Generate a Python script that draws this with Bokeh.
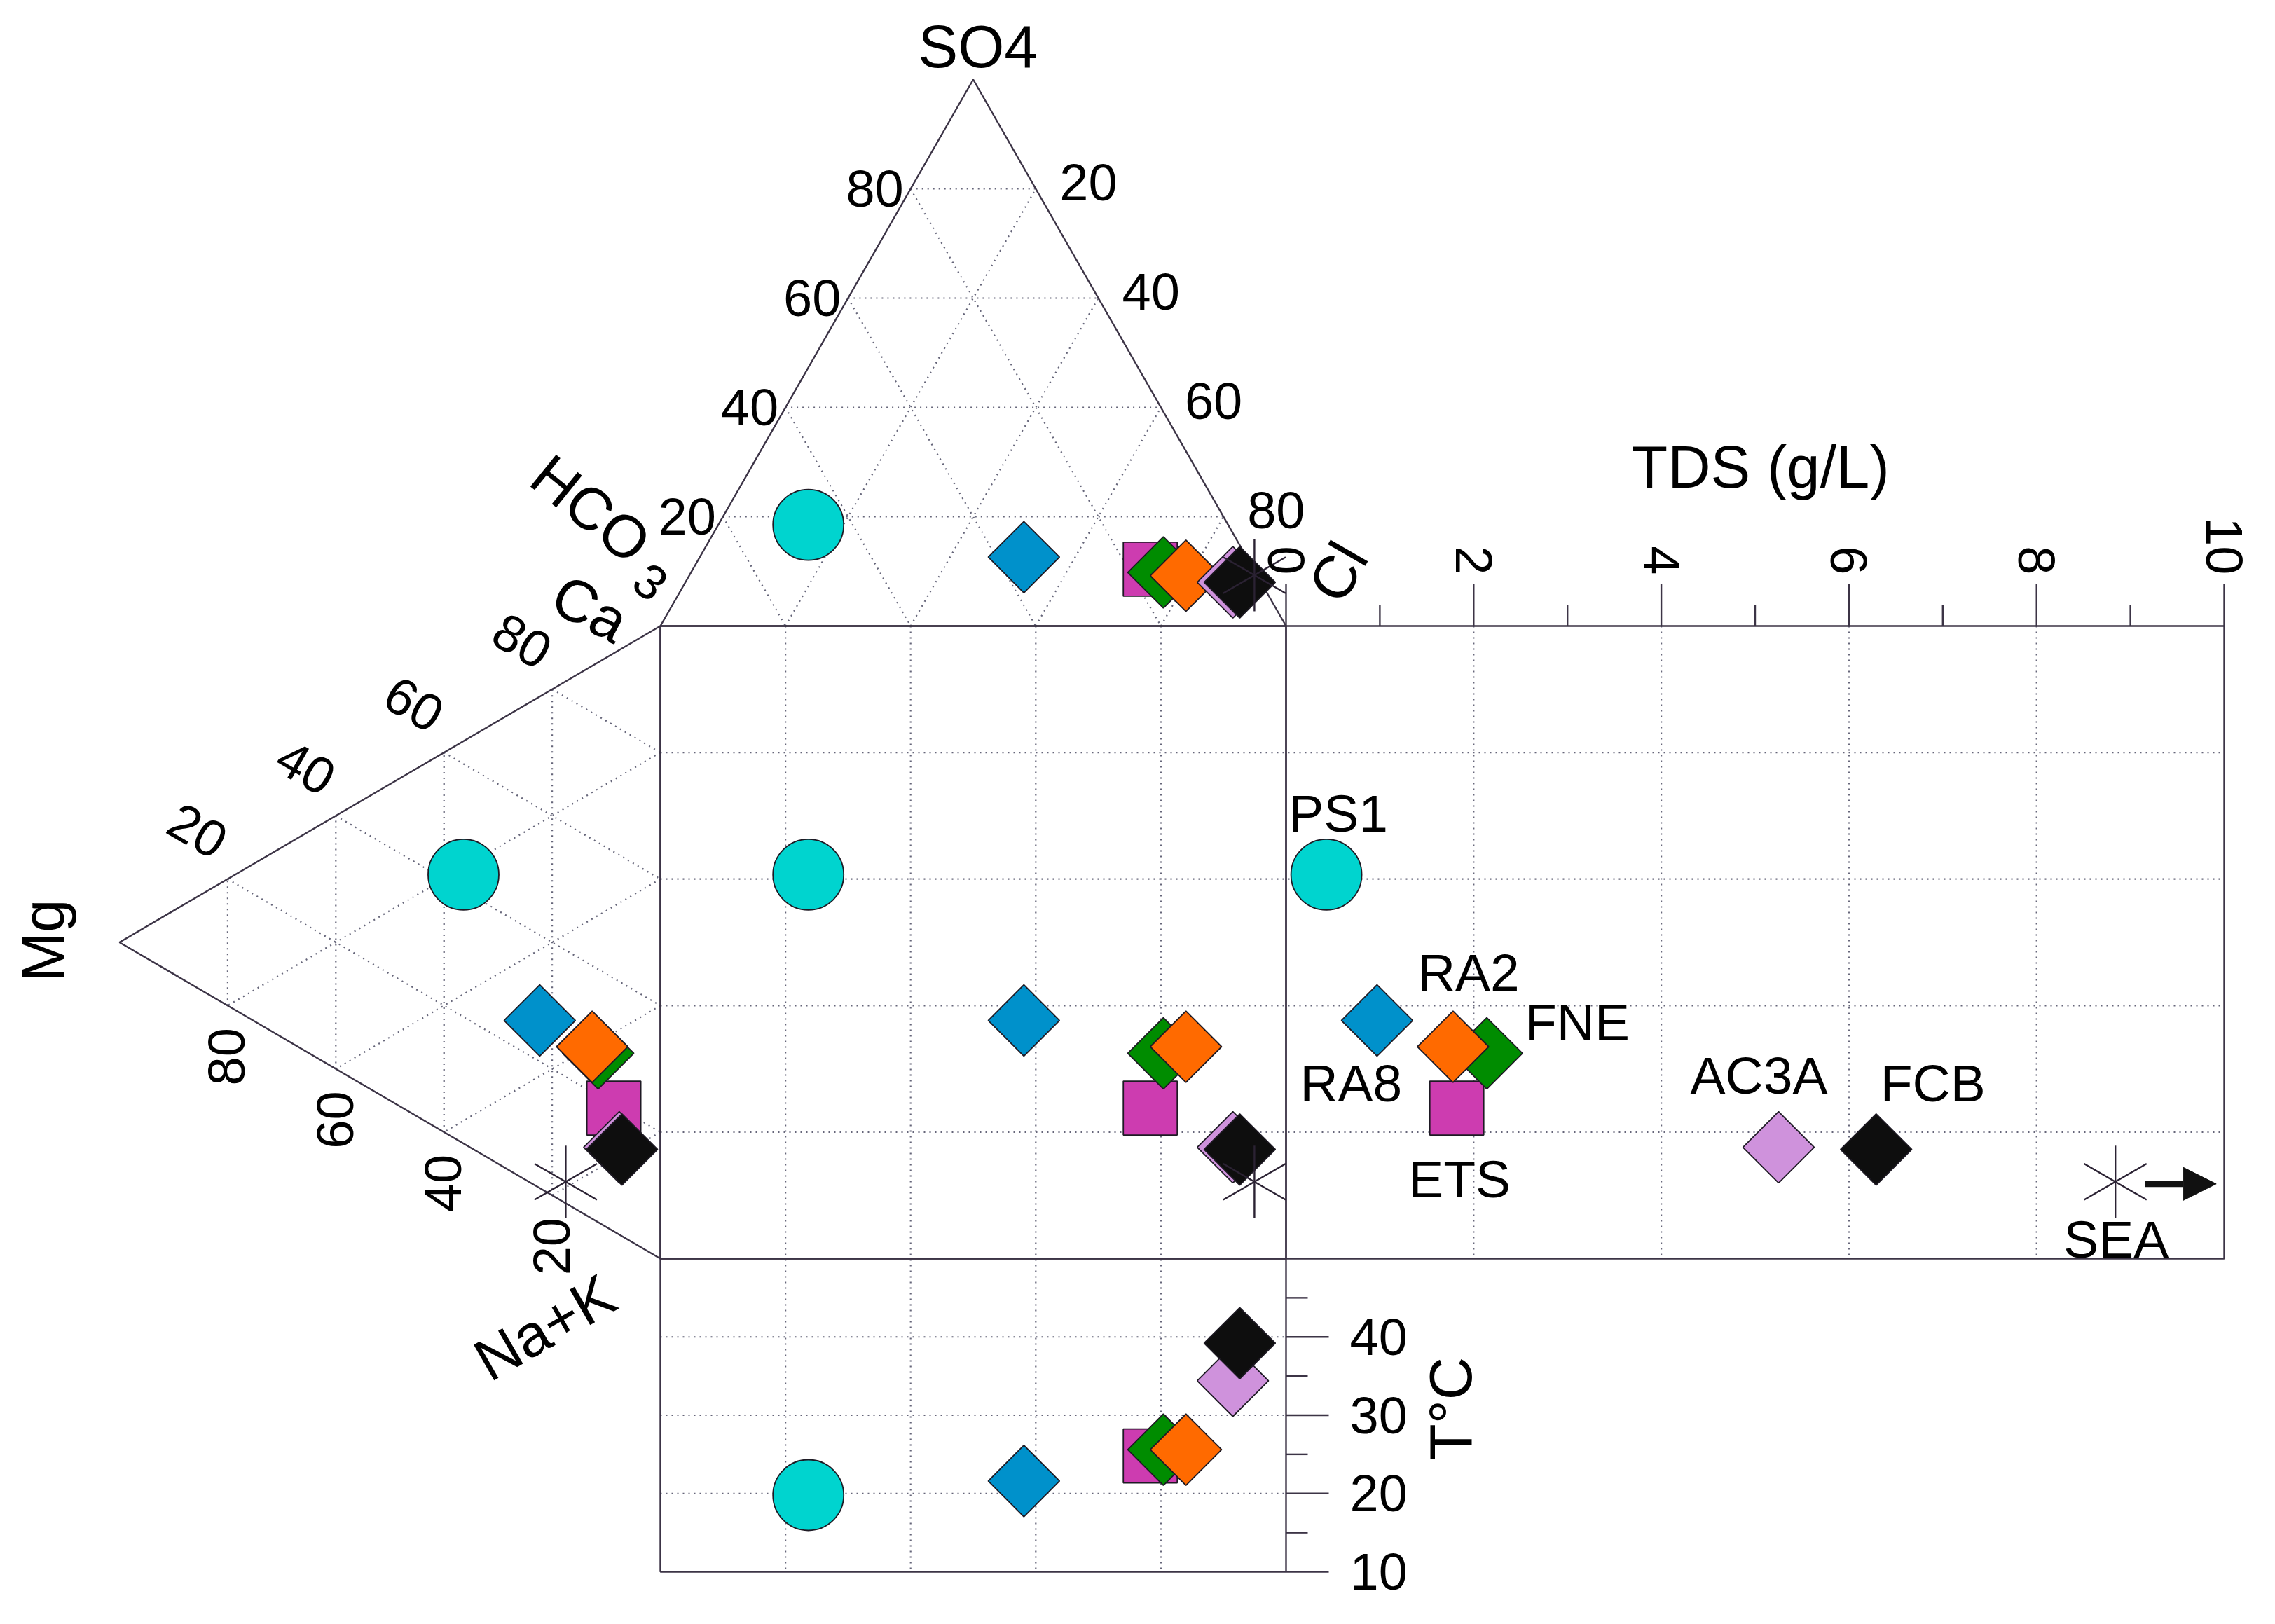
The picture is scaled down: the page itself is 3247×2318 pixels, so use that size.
import math
from bokeh.plotting import figure
from bokeh.models import Range1d, Arrow, NormalHead
from bokeh.core.properties import value
from bokeh.embed import file_html
from bokeh.resources import INLINE

# ---------------- data (percent of meq) ----------------
samples = ["PS1", "RA8", "RA2", "FNE", "ETS", "AC3A", "FCB", "SEA"]
hco3 = [67.1, 35.6, 11.4, 14.7, 16.5, 4.5, 3.4, 0.4]
so4 = [18.5, 12.6, 9.2, 9.8, 10.4, 8.0, 8.0, 9.3]
cl = [14.4, 51.8, 79.4, 75.5, 73.1, 87.5, 88.6, 90.3]
ca = [42.5, 26.5, 27.2, 26.7, 19.5, 13.8, 13.7, 3.4]
mg = [36.4, 22.3, 12.6, 11.5, 8.6, 7.6, 7.1, 17.5]
nak = [21.1, 51.2, 60.2, 61.8, 71.9, 78.6, 79.2, 79.1]
tds = [0.43, 0.97, 1.78, 2.14, 1.82, 5.25, 6.29, 8.84]       # g/L
temp = [19.8, 21.6, 25.6, 25.6, 24.8, 34.4, 39.2, float("nan")]  # deg C

tern_ticks = [20, 40, 60, 80]
tds_major = [0, 2, 4, 6, 8, 10]
tds_minor = [1, 3, 5, 7, 9]
tds_grid = [2, 4, 6, 8]
temp_major = [10, 20, 30, 40]
temp_minor = [15, 25, 35, 45]
temp_grid = [20, 30, 40]

# ---------------- layout (pixels) ----------------
SQ_L, SQ_R, SQ_T, SQ_B = 942, 1835, 893, 1796
AN_APEX_Y = 113
MG_APEX_X = 170
TDS_MAX = 10
TDS_R = 3174
T_MIN, T_MAX = 10, 50
TEMP_B = 2243

FONT = "Liberation Sans"
EDGE = "#3c3446"
GRID = "#66667a"

styles = {
    "PS1": ("circle", 101, "#00d4cf", 0.0),
    "RA8": ("square", 72, "#0091cb", math.pi / 4),
    "RA2": ("square", 72, "#ff6a00", math.pi / 4),
    "FNE": ("square", 72, "#008c00", math.pi / 4),
    "ETS": ("square", 77, "#cd3cb0", 0.0),
    "AC3A": ("square", 72, "#cf92dc", math.pi / 4),
    "FCB": ("square", 72, "#0e0e0e", math.pi / 4),
}
label_pos = {  # offset (to text middle) from TDS-panel point, alignment
    "PS1": (17, -87, "center"),
    "RA2": (22, -106, "center"),
    "FNE": (54, -44, "left"),
    "RA8": (-37, 89, "center"),
    "ETS": (4, 101, "center"),
    "AC3A": (-28, -103, "center"),
    "FCB": (81, -95, "center"),
    "SEA": (1, 82, "center"),
}
draw_order = ["PS1", "RA8", "ETS", "FNE", "RA2", "AC3A", "FCB", "SEA"]


def anion_xy(h, s, c):
    t = h + s + c
    s, c = s / t, c / t
    return SQ_L + (SQ_R - SQ_L) * (c + s / 2), SQ_T - (SQ_T - AN_APEX_Y) * s


def cation_xy(a, m, n):
    t = a + m + n
    m, n = m / t, n / t
    return SQ_L - (SQ_L - MG_APEX_X) * m, SQ_T + (SQ_B - SQ_T) * (n + m / 2)


def tds_x(v):
    return SQ_R + (TDS_R - SQ_R) * v / TDS_MAX


def temp_y(t):
    return TEMP_B - (TEMP_B - SQ_B) * (t - T_MIN) / (T_MAX - T_MIN)


p = figure(width=3230, height=2300, x_range=Range1d(0, 3230), y_range=Range1d(2300, 0),
           output_backend="svg", toolbar_location=None, x_axis_location=None,
           y_axis_location=None, min_border=0)
p.grid.visible = False
p.outline_line_color = None
p.background_fill_color = "white"
p.border_fill_color = "white"

# ---------------- dotted grids ----------------
gx, gy = [], []
for k in tern_ticks:
    f = k / 100
    for a, b in [((1 - f, f, 0), (0, f, 1 - f)), ((1 - f, 0, f), (0, 1 - f, f)), ((f, 1 - f, 0), (f, 0, 1 - f))]:
        x1, y1 = anion_xy(*a)
        x2, y2 = anion_xy(*b)
        gx.append([x1, x2]); gy.append([y1, y2])
    for a, b in [((f, 1 - f, 0), (f, 0, 1 - f)), ((0, f, 1 - f), (1 - f, f, 0)), ((1 - f, 0, f), (0, 1 - f, f))]:
        x1, y1 = cation_xy(*a)
        x2, y2 = cation_xy(*b)
        gx.append([x1, x2]); gy.append([y1, y2])
    xs = SQ_L + (SQ_R - SQ_L) * f
    gx.append([xs, xs]); gy.append([SQ_T, TEMP_B])
    ys = SQ_T + (SQ_B - SQ_T) * f
    gx.append([SQ_L, TDS_R]); gy.append([ys, ys])
for v in tds_grid:
    gx.append([tds_x(v), tds_x(v)]); gy.append([SQ_T, SQ_B])
for t in temp_grid:
    gx.append([SQ_L, SQ_R]); gy.append([temp_y(t), temp_y(t)])
p.multi_line(gx, gy, line_color=GRID, line_width=2.2, line_dash="2 6")

# ---------------- solid frames and ticks ----------------
sx, sy = [], []
ax = [anion_xy(1, 0, 0), anion_xy(0, 1, 0), anion_xy(0, 0, 1), anion_xy(1, 0, 0)]
sx.append([q[0] for q in ax]); sy.append([q[1] for q in ax])
cx = [cation_xy(1, 0, 0), cation_xy(0, 1, 0), cation_xy(0, 0, 1), cation_xy(1, 0, 0)]
sx.append([q[0] for q in cx]); sy.append([q[1] for q in cx])
for (l, r, t, b) in [(SQ_L, SQ_R, SQ_T, SQ_B), (SQ_R, TDS_R, SQ_T, SQ_B), (SQ_L, SQ_R, SQ_B, TEMP_B)]:
    sx.append([l, r, r, l, l]); sy.append([t, t, b, b, t])
for v in tds_major:
    sx.append([tds_x(v), tds_x(v)]); sy.append([SQ_T, SQ_T - 60])
for v in tds_minor:
    sx.append([tds_x(v), tds_x(v)]); sy.append([SQ_T, SQ_T - 30])
for t in temp_major:
    sx.append([SQ_R, SQ_R + 61]); sy.append([temp_y(t), temp_y(t)])
for t in temp_minor:
    sx.append([SQ_R, SQ_R + 31]); sy.append([temp_y(t), temp_y(t)])
p.multi_line(sx, sy, line_color=EDGE, line_width=2.4)

# ---------------- markers ----------------
idx = {s: i for i, s in enumerate(samples)}
for s in draw_order:
    i = idx[s]
    axp = anion_xy(hco3[i], so4[i], cl[i])
    cap = cation_xy(ca[i], mg[i], nak[i])
    xs = [axp[0], axp[0], cap[0], tds_x(tds[i])]
    ys = [axp[1], cap[1], cap[1], cap[1]]
    if not math.isnan(temp[i]):
        xs.append(axp[0]); ys.append(temp_y(temp[i]))
    if s == "SEA":
        for ang in (math.pi / 2, math.pi / 6, -math.pi / 6):
            p.scatter(xs, ys, marker="dash", size=103, angle=ang, line_color="#2b2233", line_width=2.4)
    else:
        mk, sz, col, ang = styles[s]
        p.scatter(xs, ys, marker=mk, size=sz, angle=ang, fill_color=col,
                  line_color="#1e1a24", line_width=1.8)

# arrow for SEA (off-scale TDS)
isea = idx["SEA"]
sea_x = tds_x(tds[isea])
sea_y = cation_xy(ca[isea], mg[isea], nak[isea])[1] + 3
p.add_layout(Arrow(end=NormalHead(size=47, fill_color="#111111", line_color="#111111"),
                   x_start=sea_x + 42, y_start=sea_y, x_end=sea_x + 144, y_end=sea_y,
                   line_width=9, line_color="#111111"))


# ---------------- texts ----------------
def txt(x, y, s, size, angle=0.0, align="center", baseline="middle"):
    p.text(x=[x], y=[y], text=[s], text_font=value(FONT), text_font_size=f"{size}px",
           angle=angle, text_align=align, text_baseline=baseline, text_color="black")


TICK = 74
TITLE = 85
for k in tern_ticks:
    f = k / 100
    x, y = anion_xy(1 - f, f, 0)
    txt(x - 10, y, str(k), TICK, align="right")
    x, y = anion_xy(0, 1 - f, f)
    txt(x + 34, y - 9, str(k), TICK, align="left")
    x, y = cation_xy(f, 1 - f, 0)
    txt(x - 43, y - 69, str(k), TICK, angle=-math.pi / 6)
    x, y = cation_xy(0, f, 1 - f)
    txt(x - 1, y + 73, str(k), TICK, angle=math.pi / 2)

for v in tds_major:
    txt(tds_x(v), SQ_T - 73, str(v), TICK, angle=-math.pi / 2, align="right")
for t in temp_major:
    txt(SQ_R + 91, temp_y(t), str(t), TICK, align="left")

txt(1395, 66, "SO4", TITLE)
txt(843, 726, "HCO", TITLE, angle=-math.radians(39))
txt(928, 830, "3", 70, angle=-math.radians(39))
txt(842, 868, "Ca", TITLE, angle=-math.radians(28))
txt(1909, 816, "Cl", TITLE, angle=math.radians(60))
txt(61, 1342, "Mg", TITLE, angle=math.pi / 2)
txt(777, 1894, "Na+K", TITLE, angle=math.pi / 6)
txt(2512, 666, "TDS (g/L)", TITLE)
txt(2070, 2010, "T°C", TITLE, angle=math.pi / 2)

for s in samples:
    i = idx[s]
    dx, dy, al = label_pos[s]
    yy = cation_xy(ca[i], mg[i], nak[i])[1]
    txt(tds_x(tds[i]) + dx, yy + dy, s, 75, align=al)

open("out.html", "w").write(file_html(p, INLINE))
